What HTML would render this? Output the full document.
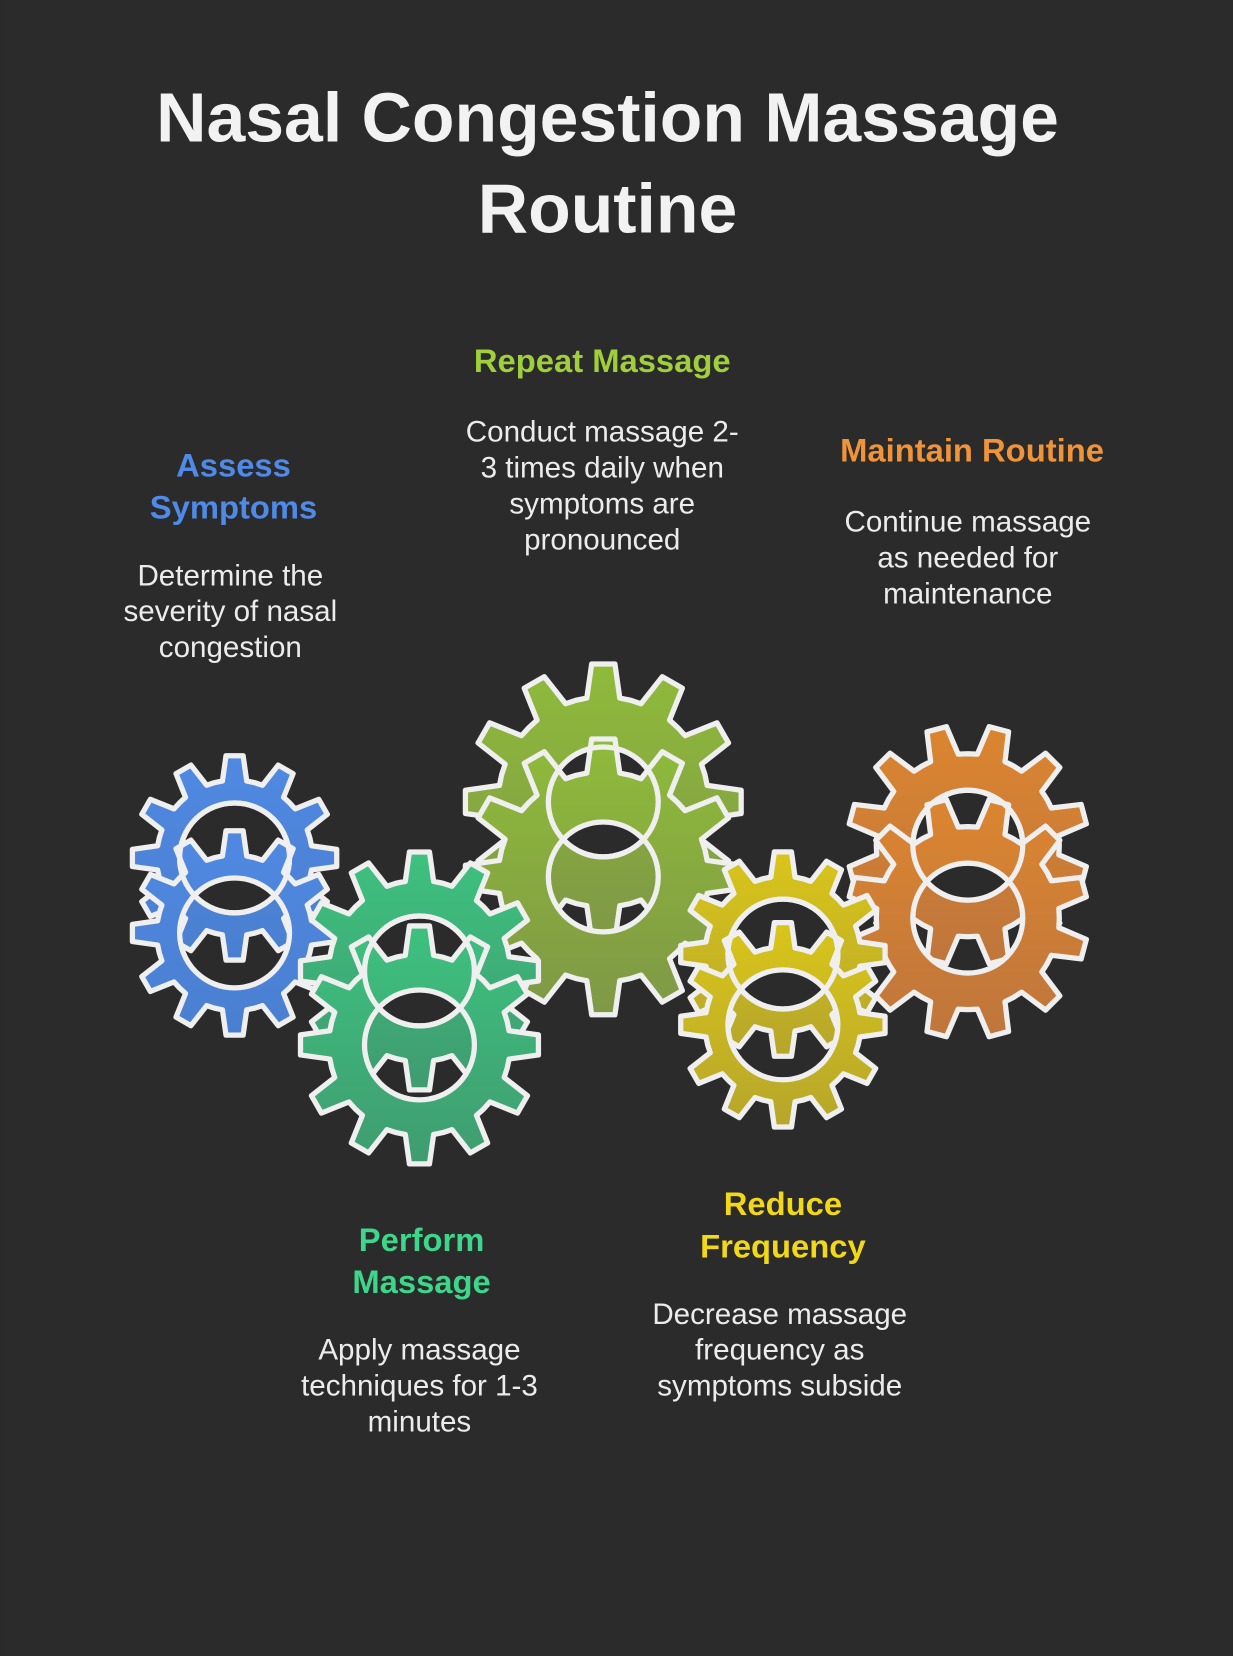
<!DOCTYPE html>
<html><head><meta charset="utf-8"><style>
html,body{margin:0;padding:0;background:#2b2b2b;}
svg{display:block}
text{font-family:"Liberation Sans",Arial,sans-serif;text-anchor:middle}
.t{font-weight:bold;font-size:66px;fill:#f2f2f2}
.h{font-weight:bold;font-size:31px}
.b{font-size:28px;fill:#ececec}
</style></head><body>
<svg id="s" width="1233" height="1656" viewBox="0 0 1167 1567.4" xmlns="http://www.w3.org/2000/svg">
<defs>
<linearGradient id="gb" x1="0" y1="0" x2="0" y2="1"><stop offset="0" stop-color="#5089e2"/><stop offset="1" stop-color="#4a7fd0"/></linearGradient>
<linearGradient id="gg" x1="0" y1="0" x2="0" y2="1"><stop offset="0" stop-color="#3ec17f"/><stop offset="1" stop-color="#3f9c70"/></linearGradient>
<linearGradient id="go" x1="0" y1="0" x2="0" y2="1"><stop offset="0" stop-color="#8fbb3a"/><stop offset="1" stop-color="#7f9846"/></linearGradient>
<linearGradient id="gy" x1="0" y1="0" x2="0" y2="1"><stop offset="0" stop-color="#d9c51a"/><stop offset="1" stop-color="#b6a62a"/></linearGradient>
<linearGradient id="gr" x1="0" y1="0" x2="0" y2="1"><stop offset="0" stop-color="#db8530"/><stop offset="1" stop-color="#bf763c"/></linearGradient>
</defs>
<rect width="1167" height="1567.4" fill="#2b2b2b"/>
<g id="gears"></g>
<text class="t" x="575" y="134">Nasal Congestion Massage</text>
<text class="t" x="575" y="220">Routine</text>

<text class="h" x="570" y="352" fill="#9fcf3a">Repeat Massage</text>
<text class="b" x="570" y="418">Conduct massage 2-</text>
<text class="b" x="570" y="452">3 times daily when</text>
<text class="b" x="570" y="486">symptoms are</text>
<text class="b" x="570" y="520">pronounced</text>

<text class="h" x="221" y="451" fill="#4f8ae8">Assess</text>
<text class="h" x="221" y="491" fill="#4f8ae8">Symptoms</text>
<text class="b" x="218" y="554">Determine the</text>
<text class="b" x="218" y="588">severity of nasal</text>
<text class="b" x="218" y="622">congestion</text>

<text class="h" x="920" y="437" fill="#f0943a">Maintain Routine</text>
<text class="b" x="916" y="503">Continue massage</text>
<text class="b" x="916" y="537">as needed for</text>
<text class="b" x="916" y="571">maintenance</text>

<text class="h" x="399" y="1184" fill="#3ed68a">Perform</text>
<text class="h" x="399" y="1224" fill="#3ed68a">Massage</text>
<text class="b" x="397" y="1287">Apply massage</text>
<text class="b" x="397" y="1321">techniques for 1-3</text>
<text class="b" x="397" y="1355">minutes</text>

<text class="h" x="741" y="1150" fill="#f2d816">Reduce</text>
<text class="h" x="741" y="1190" fill="#f2d816">Frequency</text>
<text class="b" x="738" y="1253">Decrease massage</text>
<text class="b" x="738" y="1287">frequency as</text>
<text class="b" x="738" y="1321">symptoms subside</text>
</svg>
<script>
function gear(cx,cy,R,n,rot,hr){
  var r=R*0.76,p=2*Math.PI/n,d="";
  function pt(rr,a){return (cx+rr*Math.sin(a)).toFixed(1)+","+(cy-rr*Math.cos(a)).toFixed(1);}
  for(var i=0;i<n;i++){
    var a=rot+i*p;
    d+=(i==0?"M":"L")+pt(r,a-p*0.5)+" L"+pt(r,a-p*0.3)+" L"+pt(R,a-p*0.16)+" L"+pt(R,a+p*0.16)+" L"+pt(r,a+p*0.3);
  }
  d+="Z M"+(cx+hr)+","+cy+" a"+hr+","+hr+" 0 1,0 "+(-2*hr)+",0 a"+hr+","+hr+" 0 1,0 "+(2*hr)+",0Z";
  return d;
}
var specs=[
 [571,759,830,131,12,0,"go"],
 [222,812,883,97,12,0,"gb"],
 [397,919,989,113,12,0,"gg"],
 [916,800,869,114,12,Math.PI/12,"gr"],
 [741,903,970,97,12,0,"gy"]
];
var g=document.getElementById("gears"),h="";
specs.forEach(function(s){
  var st='fill="url(#'+s[6]+')" fill-rule="evenodd" stroke="#efefef" stroke-width="5" stroke-linejoin="round"';
  h+='<path d="'+gear(s[0],s[1],s[3],s[4],s[5],52)+'" '+st+'/>';
  h+='<path d="'+gear(s[0],s[2],s[3],s[4],s[5],52)+'" '+st+'/>';
  h+='<circle cx="'+s[0]+'" cy="'+s[1]+'" r="52" fill="none" stroke="#efefef" stroke-width="5"/>';
});
g.innerHTML=h;
</script>
</body></html>
